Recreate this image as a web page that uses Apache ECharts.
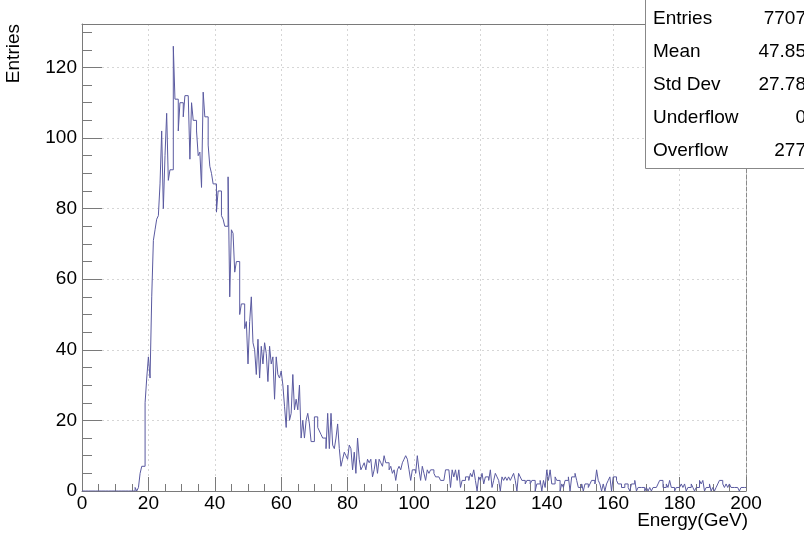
<!DOCTYPE html>
<html><head><meta charset="utf-8">
<script src="https://cdn.jsdelivr.net/npm/echarts@6/dist/echarts.min.js"></script>
<style>html,body{margin:0;padding:0;background:#fff}#c{width:804px;height:536px}</style>
</head><body><div id="c"></div><script>
// ---- data ----
const binWidth = 0.5;
const xMin = 0, xMax = 200;
const yMax = 132.3;
const counts = [
 0,0,0,0,0,0,0,0,0,0, 0,0,0,0,0,0,0,0,0,0, 0,0,0,0,0,0,0,0,0,0, 0,0,
 1,0,1,5,7,7,
 25,32,38,32,55,71,74,77,78,87,
 102,80,95,107,88,91,91,126,111,111,
 102,110,110,106,112,112,112,94,110,105,
 105,102,95,96,86,113,106,106,98,92,
 90,87,87,79,85,85,78,77,75,75,
 89,55,74,73,62,65,65,50,53,53,
 46,48,36,48,55,42,40,33,43,32,
 41,36,42,39,31,41,36,38,26,38,
 33,32,34,30,24,18,30,20,22,33,
 23,26,23,30,15,20,15,20,22,19,
 14,14,21,21,18,17,16,15,15,12,
 22,12,22,13,12,15,19,12,7,9,11,10,9,
 13,12,6,11,5,15,9,6,7,8,
 6,9,8,9,4,6,9,5,9,8,
 7,10,8,8,6,7,5,6,3,6,
 7,6,8,9,10,9,6,3,6,6,
 5,10,6,3,7,5,3,6,5,6,
 6,5,4,4,4,3,3,3,6,6,
 6,1,6,4,6,3,6,1,3,3,
 4,4,3,5,4,6,3,0,4,3,
 5,2,4,4,3,6,1,3,5,4,
 3,0,4,3,4,3,4,3,4,5,
 3,0,5,4,3,3,2,3,3,2,
 3,3,0,2,2,3,0,3,1,6,3,
 6,2,2,4,3,3,0,2,1,3,
 3,4,0,4,4,5,3,1,1,2,
 0,2,2,1,2,3,3,2,6,3,
 2,0,2,0,2,3,4,0,4,4,
 3,2,2,1,1,2,2,1,0,2,
 2,3,0,1,1,1,1,0,1,0,
 1,0,1,1,1,2,3,3,1,1,
 2,1,3,1,1,0,1,1,1,2,
 1,2,0,1,1,2,1,0,1,1,
 3,2,3,0,1,1,2,0,1,0,
 1,2,3,3,2,1,2,1,2,1,
 1,1,1,1,0,1,1,1
];
const xTitle = 'Energy(GeV)';
const yTitle = 'Entries';
const statsLabels = ['Entries', 'Mean', 'Std Dev', 'Underflow', 'Overflow'];
const statsValues = ['7707', '47.85', '27.78', '0', '277'];

// ---- build ----
const histData = counts.map((v, i) => [xMin + i * binWidth, v]);
histData.push([xMin + counts.length * binWidth, counts[counts.length - 1]]);

const FONT = '"Liberation Sans", Arial, sans-serif';
const axisCol = '#7a7a7a';
const gridStyle = { color: '#d6d6d6', type: [2, 3], width: 1 };

const chart = echarts.init(document.getElementById('c'), null, { renderer: 'canvas' });

const statsGraphics = [];
statsGraphics.push({
  type: 'rect', z: 100,
  shape: { x: 645.5, y: -1.5, width: 200, height: 170 },
  style: { fill: '#fff', stroke: '#888', lineWidth: 1 }
});
statsLabels.forEach((t, i) => {
  statsGraphics.push({
    type: 'text', z: 101, left: 653, top: 20 + i * 33 - 11,
    style: { text: t, font: '19px ' + FONT, fill: '#000' }
  });
  statsGraphics.push({
    type: 'text', z: 101, right: -2, top: 20 + i * 33 - 11,
    style: { text: statsValues[i], font: '19px ' + FONT, fill: '#000', textAlign: 'right' }
  });
});

chart.setOption({
  animation: false,
  backgroundColor: '#fff',
  grid: { left: 82, right: 58, top: 24, bottom: 45, containLabel: false },
  xAxis: [{
    type: 'value', min: xMin, max: xMax, interval: 20, position: 'bottom',
    axisLine: { show: true, lineStyle: { color: axisCol, width: 1 } },
    axisTick: { show: true, inside: true, length: 14, lineStyle: { color: axisCol } },
    minorTick: { show: true, splitNumber: 4, length: 7, lineStyle: { color: axisCol } },
    axisLabel: { show: true, fontSize: 19, fontFamily: FONT, color: '#000', margin: 3 },
    splitLine: { show: true, lineStyle: gridStyle },
    minorSplitLine: { show: false }
  }, {
    type: 'value', min: xMin, max: xMax, position: 'top',
    axisLine: { show: true, onZero: false, lineStyle: { color: axisCol, width: 1 } },
    axisTick: { show: false }, axisLabel: { show: false }, splitLine: { show: false }
  }],
  yAxis: [{
    type: 'value', min: 0, max: yMax, interval: 20, position: 'left',
    axisLine: { show: true, lineStyle: { color: axisCol, width: 1 } },
    axisTick: { show: true, inside: true, length: 20, lineStyle: { color: axisCol } },
    axisLabel: { show: true, fontSize: 19, fontFamily: FONT, color: '#000', margin: 5, showMaxLabel: false,
      formatter: v => (v % 20 === 0 ? String(v) : '') },
    splitLine: { show: true, lineStyle: gridStyle }
  }, {
    type: 'value', min: 0, max: yMax, interval: 5, position: 'left', offset: 0,
    axisLine: { show: false },
    axisTick: { show: true, inside: true, length: 10, lineStyle: { color: axisCol } },
    axisLabel: { show: false }, splitLine: { show: false }
  }, {
    type: 'value', min: 0, max: yMax, position: 'right', offset: 0,
    axisLine: { show: true, onZero: false, lineStyle: { color: '#8a8a8a', width: 1, type: [4, 2] } },
    axisTick: { show: false }, axisLabel: { show: false }, splitLine: { show: false }
  }],
  series: [{
    type: 'line', step: 'end', data: histData, xAxisIndex: 0, yAxisIndex: 0,
    showSymbol: false, symbol: 'none',
    lineStyle: { color: '#5a5aa0', width: 1 },
    clip: true, z: 5
  }],
  graphic: [
    {
      type: 'text', z: 50, right: 804 - 748, top: 511,
      style: { text: xTitle, font: '19px ' + FONT, fill: '#000', textAlign: 'right' }
    },
    {
      type: 'text', z: 50, x: 4, y: 24, rotation: Math.PI / 2,
      style: { text: yTitle, font: '19px ' + FONT, fill: '#000', textAlign: 'right', textVerticalAlign: 'top' }
    }
  ].concat(statsGraphics)
});
</script></body></html>
